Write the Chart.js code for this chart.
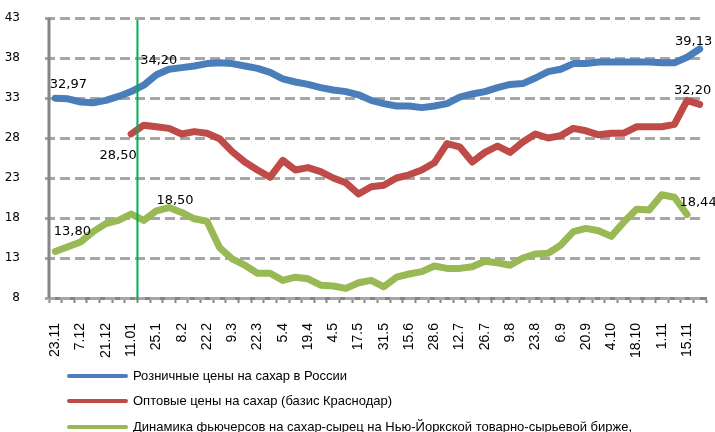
<!DOCTYPE html>
<html>
<head>
<meta charset="utf-8">
<script src="https://cdn.jsdelivr.net/npm/chart.js@4/dist/chart.umd.min.js"></script>
<style>
html,body{margin:0;padding:0;background:#ffffff;}
#wrap{width:715px;height:432px;position:relative;overflow:hidden;}
</style>
</head>
<body>
<div id="wrap"><canvas id="c" width="715" height="432"></canvas></div>
<script>
// ---- data ----
const categories = [
  '23.11','30.11','7.12','14.12','21.12','28.12','11.01','18.01','25.1','1.2',
  '8.2','15.2','22.2','1.3','9.3','15.3','22.3','29.3','5.4','12.4',
  '19.4','26.4','4.5','10.5','17.5','24.5','31.5','7.6','15.6','21.6',
  '28.6','5.7','12.7','19.7','26.7','2.8','9.8','16.8','23.8','30.8',
  '6.9','13.9','20.9','27.9','4.10','11.10','18.10','25.10','1.11','8.11',
  '15.11','22.11'
];
const retailPrices = [
  32.97,32.9,32.5,32.4,32.7,33.2,33.8,34.6,35.9,36.6,
  36.8,37.0,37.3,37.4,37.3,37.0,36.7,36.2,35.4,35.0,
  34.7,34.3,34.0,33.8,33.4,32.7,32.3,32.0,32.0,31.8,
  32.0,32.3,33.1,33.5,33.8,34.3,34.7,34.8,35.5,36.3,
  36.6,37.3,37.3,37.5,37.5,37.5,37.5,37.5,37.4,37.4,
  38.1,39.13
];
const wholesalePrices = [
  null,null,null,null,null,null,28.5,29.6,29.4,29.2,
  28.5,28.8,28.6,27.9,26.3,25.0,24.0,23.1,25.2,24.0,
  24.3,23.8,23.0,22.4,21.0,21.9,22.1,23.0,23.4,24.0,
  24.9,27.3,26.9,25.0,26.2,27.0,26.2,27.5,28.5,28.0,
  28.3,29.2,28.9,28.4,28.6,28.6,29.4,29.4,29.4,29.7,
  32.7,32.2
];
const futuresPrices = [
  13.8,14.4,15.0,16.3,17.3,17.7,18.5,17.7,18.9,19.3,
  18.7,17.9,17.6,14.3,12.9,12.1,11.1,11.1,10.2,10.6,
  10.4,9.6,9.5,9.2,9.9,10.2,9.4,10.6,11.0,11.3,
  12.0,11.7,11.7,11.9,12.6,12.4,12.1,13.0,13.5,13.6,
  14.6,16.3,16.7,16.4,15.7,17.5,19.1,19.0,20.9,20.6,
  18.44,null
];
const seriesNames = [
  'Розничные цены на сахар в России',
  'Оптовые цены на сахар (базис Краснодар)',
  'Динамика фьючерсов на сахар-сырец на Нью-Йоркской товарно-сырьевой бирже,'
];
const yMin = 8, yMax = 43, yStep = 5;
const labelTexts = ['32,97','34,20','39,13','28,50','32,20','13,80','18,50','18,44'];
const labelSeries = [0,0,0,1,1,2,2,2];
const labelIndex  = [0,7,51,6,51,0,9,50];
const markerPosition = 6.5; // vertical marker between 11.01 and 18.01

// ---- styles ----
const colors = ['#4a7ebb','#be4b48','#98b954'];
const labelOffsets = [[13,-10],[15,-21],[-6,-4],[-13,25],[-7,-10],[17,-17],[6,-4],[11,-8]];

const gridPlugin = {
  id: 'dashedGrid',
  beforeDatasetsDraw(chart) {
    const ctx = chart.ctx;
    const ys = chart.scales.y;
    const area = chart.chartArea;
    ctx.save();
    ctx.strokeStyle = '#a6a6a6';
    ctx.lineWidth = 3;
    ctx.setLineDash([10, 5]);
    ys.ticks.forEach(t => {
      const y = Math.round(ys.getPixelForValue(t.value)) + 0.5;
      ctx.beginPath();
      ctx.moveTo(area.left - 4, y);
      ctx.lineTo(area.right - 3, y);
      ctx.stroke();
    });
    ctx.setLineDash([]);
    ctx.strokeStyle = '#868686';
    ctx.lineWidth = 3;
    ctx.beginPath();
    ctx.moveTo(area.left, area.top);
    ctx.lineTo(area.left, area.bottom);
    ctx.stroke();
    ctx.restore();
  }
};

const dataLabelPlugin = {
  id: 'dataLabelPlugin',
  afterDatasetsDraw(chart) {
    const ctx = chart.ctx;
    ctx.save();
    ctx.font = '13px "DejaVu Sans", sans-serif';
    ctx.fillStyle = '#000000';
    ctx.textAlign = 'center';
    ctx.textBaseline = 'alphabetic';
    labelTexts.forEach((t, k) => {
      const meta = chart.getDatasetMeta(labelSeries[k]);
      const el = meta.data[labelIndex[k]];
      if (!el) return;
      ctx.fillText(t, el.x + labelOffsets[k][0], el.y + labelOffsets[k][1]);
    });
    ctx.restore();
  }
};

const markerPlugin = {
  id: 'markerPlugin',
  afterDatasetsDraw(chart) {
    const ctx = chart.ctx;
    const x = chart.scales.x.getPixelForValue(markerPosition);
    ctx.save();
    ctx.strokeStyle = '#00b050';
    ctx.lineWidth = 2;
    ctx.beginPath();
    ctx.moveTo(x, chart.chartArea.top + 2);
    ctx.lineTo(x, chart.chartArea.bottom + 2);
    ctx.stroke();
    ctx.restore();
  }
};

const legendPlugin = {
  id: 'customLegend',
  afterDraw(chart) {
    const ctx = chart.ctx;
    ctx.save();
    const rows = [376, 401, 427];
    seriesNames.forEach((name, i) => {
      ctx.strokeStyle = colors[i];
      ctx.lineWidth = 4;
      ctx.lineCap = 'round';
      ctx.beginPath();
      ctx.moveTo(69, rows[i]);
      ctx.lineTo(126, rows[i]);
      ctx.stroke();
      ctx.fillStyle = '#000000';
      ctx.font = '13px "Liberation Sans", Arial, sans-serif';
      ctx.textAlign = 'left';
      ctx.textBaseline = 'middle';
      ctx.fillText(name, 133, rows[i]);
    });
    ctx.restore();
  }
};

const mk = (label, data, i) => ({
  label, data,
  borderColor: colors[i],
  backgroundColor: colors[i],
  borderWidth: 7,
  pointRadius: 0,
  pointHoverRadius: 0,
  tension: 0,
  spanGaps: false,
  borderCapStyle: 'round',
  borderJoinStyle: 'round',
  fill: false
});

new Chart(document.getElementById('c'), {
  type: 'line',
  data: {
    labels: categories,
    datasets: [
      mk(seriesNames[0], retailPrices, 0),
      mk(seriesNames[1], wholesalePrices, 1),
      mk(seriesNames[2], futuresPrices, 2)
    ]
  },
  options: {
    responsive: false,
    animation: false,
    devicePixelRatio: 1,
    layout: { padding: { top: 18, right: 9, bottom: 74, left: 0 } },
    plugins: { legend: { display: false }, tooltip: { enabled: false } },
    scales: {
      x: {
        type: 'category',
        offset: true,
        afterFit(s) { s.height = 60; s.paddingLeft = 0; s.paddingRight = 0; },
        border: { display: true, color: '#868686', width: 3 },
        grid: { display: true, offset: true, drawOnChartArea: false, drawTicks: true, tickLength: 5, tickColor: '#868686', tickWidth: 2 },
        ticks: {
          autoSkip: false, maxRotation: 90, minRotation: 90, padding: 20,
          color: '#000000',
          font: { family: '"Liberation Sans", Arial, sans-serif', size: 14 },
          callback(v, i) { return i % 2 === 0 ? categories[i] : ''; }
        }
      },
      y: {
        min: yMin, max: yMax,
        afterFit(s) { s.width = 49; s.paddingTop = 0; s.paddingBottom = 0; },
        border: { display: false },
        grid: { display: false },
        ticks: {
          stepSize: yStep, padding: 21, color: '#000000',
          font: { family: '"DejaVu Sans", sans-serif', size: 12 }
        }
      }
    }
  },
  plugins: [gridPlugin, dataLabelPlugin, markerPlugin, legendPlugin]
});
</script>
</body>
</html>
